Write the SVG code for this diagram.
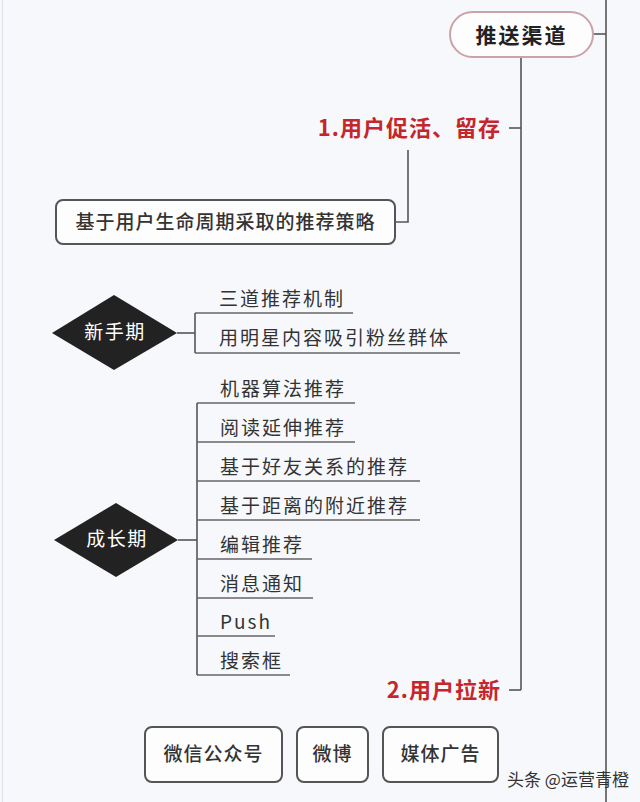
<svg xmlns="http://www.w3.org/2000/svg" width="640" height="802" viewBox="0 0 640 802">
<style>
text{font-family:"Noto Sans CJK SC","Noto Sans",sans-serif;}
.item{font-size:19px;fill:#333;letter-spacing:2px;}
.box{fill:#fdfdfe;stroke:#555;stroke-width:2;}
.boxt{font-size:19px;fill:#333;text-anchor:middle;letter-spacing:1px;font-weight:500;}
.red{font-size:22px;font-weight:bold;fill:#c4262b;text-anchor:end;letter-spacing:1px;}
.dia{fill:#222;}
.diat{font-size:19px;fill:#fff;text-anchor:middle;letter-spacing:1.5px;}
.ln{stroke:#555;stroke-width:1.6;fill:none;}
.ul{stroke:#666;stroke-width:1.6;fill:none;}
</style>
<rect width="640" height="802" fill="#f6f8fb"/>
<line x1="2.5" y1="0" x2="2.5" y2="802" stroke="#dde2e8" stroke-width="1"/>
<g id="connectors">
<line class="ln" x1="606" y1="0" x2="606" y2="802"/>
<line class="ln" x1="593" y1="34" x2="606" y2="34"/>
<line class="ln" x1="521" y1="57" x2="521" y2="690"/>
<line class="ln" x1="509" y1="128" x2="521" y2="128"/>
<line class="ln" x1="509" y1="690" x2="521" y2="690"/>
<polyline class="ln" points="408,150 408,222 395,222"/>
<line class="ln" x1="177" y1="333" x2="195" y2="333"/>
<line class="ln" x1="195" y1="313" x2="195" y2="353"/>
<line class="ln" x1="178" y1="540" x2="197" y2="540"/>
<line class="ln" x1="197" y1="403" x2="197" y2="675"/>
</g>
<g id="node-channel">
<rect x="450" y="12" width="143" height="45" rx="22.5" fill="#fdfdfe" stroke="#c9a3a8" stroke-width="2"/>
<text x="521.5" y="42.5" font-size="21" font-weight="bold" fill="#222" text-anchor="middle" letter-spacing="2">推送渠道</text>
</g>
<g id="node-label1">
<text class="red" x="501" y="136">1.用户促活、留存</text>
</g>
<g id="node-label2">
<text class="red" x="501" y="698">2.用户拉新</text>
</g>
<g id="node-strategy">
<rect class="box" x="56" y="200" width="339" height="44" rx="7"/>
<text class="boxt" x="225.5" y="229" font-size="20" letter-spacing="1.7">基于用户生命周期采取的推荐策略</text>
</g>
<g id="node-newbie">
<polygon class="dia" points="52,333 114,295 177,333 114,370"/>
<text class="diat" x="115" y="339">新手期</text>
</g>
<g id="node-newbie-items">
<text class="item" x="219" y="306">三道推荐机制</text>
<line class="ul" x1="195" y1="313" x2="353" y2="313"/>
<text class="item" x="219" y="345">用明星内容吸引粉丝群体</text>
<line class="ul" x1="195" y1="353" x2="460" y2="353"/>
</g>
<g id="node-growth">
<polygon class="dia" points="54,540 116,503 178,540 116,577"/>
<text class="diat" x="117" y="546">成长期</text>
</g>
<g id="node-growth-items">
<text class="item" x="220" y="396">机器算法推荐</text>
<line class="ul" x1="197" y1="403" x2="355" y2="403"/>
<text class="item" x="220" y="435">阅读延伸推荐</text>
<line class="ul" x1="197" y1="442" x2="355" y2="442"/>
<text class="item" x="220" y="474">基于好友关系的推荐</text>
<line class="ul" x1="197" y1="481" x2="420" y2="481"/>
<text class="item" x="220" y="513">基于距离的附近推荐</text>
<line class="ul" x1="197" y1="520" x2="420" y2="520"/>
<text class="item" x="220" y="552">编辑推荐</text>
<line class="ul" x1="197" y1="559" x2="312" y2="559"/>
<text class="item" x="220" y="591">消息通知</text>
<line class="ul" x1="197" y1="598" x2="313" y2="598"/>
<text class="item" x="220" y="629" letter-spacing="0.5">Push</text>
<line class="ul" x1="197" y1="636" x2="275" y2="636"/>
<text class="item" x="220" y="668">搜索框</text>
<line class="ul" x1="197" y1="675" x2="290" y2="675"/>
</g>
<g id="node-wechat">
<rect class="box" x="145" y="727" width="137" height="55" rx="7"/>
<text class="boxt" x="213.5" y="761">微信公众号</text>
</g>
<g id="node-weibo">
<rect class="box" x="297" y="727" width="71" height="55" rx="7"/>
<text class="boxt" x="332.5" y="761">微博</text>
</g>
<g id="node-media">
<rect class="box" x="383" y="727" width="115" height="55" rx="7"/>
<text class="boxt" x="440.5" y="761">媒体广告</text>
</g>
<text x="507" y="786" font-size="17" fill="#333">头条 @运营青橙</text>
</svg>
